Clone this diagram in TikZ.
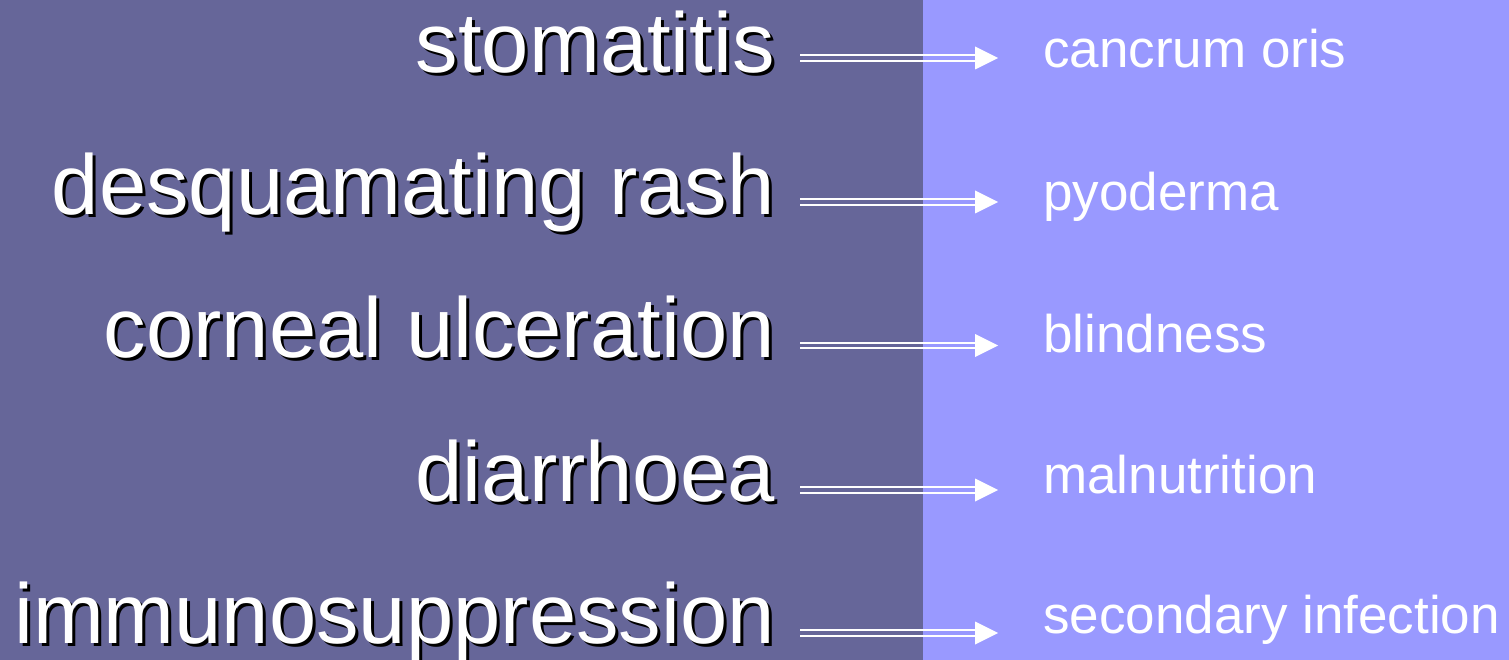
\documentclass[tikz,border=0pt]{standalone}
\usepackage{fontspec}
\setmainfont{Liberation Sans}
\usepackage{tikz}
\usetikzlibrary{positioning, calc}
\definecolor{slateBg}{HTML}{666699}
\definecolor{lilacBg}{HTML}{9999FF}
\newcommand{\dropshadow}[1]{\rlap{\kern3pt\raisebox{-3pt}{\color{black}#1}}#1}

\begin{document}
\begin{tikzpicture}[
    x=1pt, y=-1pt,
    cause/.style={anchor=base east, inner sep=0pt, text=white, font=\fontsize{85}{100}\selectfont},
    effect/.style={anchor=base west, inner sep=0pt, text=white, font=\fontsize{53}{64}\selectfont},
    twin/.style={draw=white, line width=2.2pt},
]
    \useasboundingbox (0,0) rectangle (1509,660);
    \fill[slateBg] (0,0) rectangle (923,660);
    \fill[lilacBg] (923,0) rectangle (1509,660);

    % causes on the left
    \node[cause] (l1) at (775,73) {\dropshadow{stomatitis}};
    \node[cause] (l2) at (775,215) {\dropshadow{desquamating rash}};
    \node[cause] (l3) at (775,357) {\dropshadow{corneal ulceration}};
    \node[cause] (l4) at (775,501) {\dropshadow{diarrhoea}};
    \node[cause] (l5) at (775,643) {\dropshadow{immunosuppression}};

    % results on the right
    \node[effect] (r1) at (1043,68) {cancrum oris};
    \node[effect] (r2) at (1043,211) {pyoderma};
    \node[effect] (r3) at (1043,352) {blindness};
    \node[effect] (r4) at (1043,493) {malnutrition};
    \node[effect] (r5) at (1043,633) {secondary infection};

    % arrow starts
    \coordinate (s1) at (800,58);
    \coordinate (s2) at (800,202);
    \coordinate (s3) at (800,345.5);
    \coordinate (s4) at (800,490);
    \coordinate (s5) at (800,633);

    \foreach \i in {1,...,5} {
        \draw[twin] ($(s\i)+(0,-2.8)$) -- ($(s\i -| r\i.west)+(-62,-2.8)$);
        \draw[twin] ($(s\i)+(0,2.8)$) -- ($(s\i -| r\i.west)+(-62,2.8)$);
        \fill[white] ($(s\i -| r\i.west)+(-45,0)$) -- ++(-23,-11.5) -- ++(0,23) -- cycle;
    }
\end{tikzpicture}
\end{document}
